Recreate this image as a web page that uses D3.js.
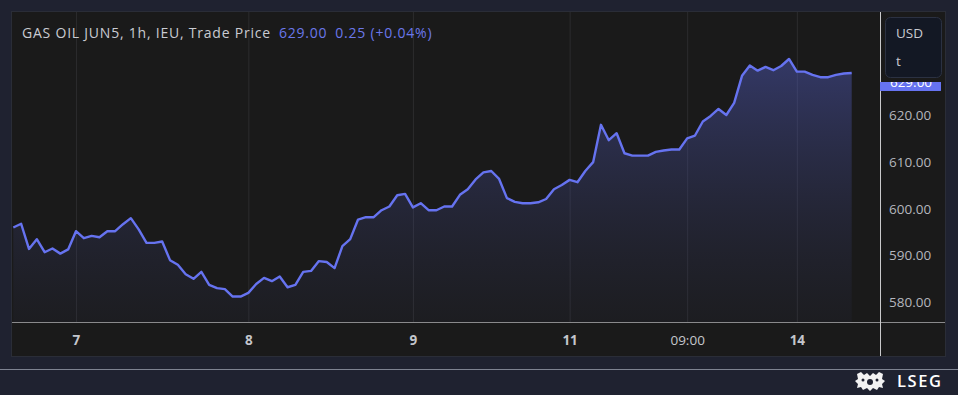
<!DOCTYPE html>
<html><head><meta charset="utf-8">
<script src="https://cdn.jsdelivr.net/npm/d3@7"></script>
<style>
html,body{margin:0;padding:0;background:#1f2230;overflow:hidden;}
svg{display:block;}
</style></head>
<body>
<svg id="chart" width="958" height="395"></svg>
<script>
const prices = [595.9,596.7,591.3,593.4,590.6,591.4,590.3,591.2,595.1,593.6,
594.1,593.8,595.1,595.1,596.6,597.9,595.5,592.6,592.6,592.9,
588.9,587.9,585.9,584.9,586.4,583.6,582.9,582.7,581.1,581.1,
581.9,583.8,585.1,584.4,585.4,583.1,583.6,586.4,586.6,588.7,
588.5,587.2,591.9,593.4,597.6,598.1,598.1,599.6,600.4,602.8,
603.1,600.2,601.1,599.6,599.6,600.4,600.4,602.9,604.1,606.2,
607.7,608.0,606.3,602.2,601.4,601.1,601.1,601.3,602.0,604.1,
605.0,606.1,605.6,608.0,609.9,617.9,614.6,616.1,611.8,611.3,
611.3,611.3,612.1,612.4,612.6,612.6,615.0,615.6,618.6,619.8,
621.3,620.0,622.6,628.4,630.6,629.5,630.3,629.6,630.5,632.0,
629.3,629.3,628.6,628.1,628.1,628.6,628.9,629.0];
const xTickIndex = [8,30,51,71,86,100];
const xTickLabels = ["7","8","9","11","09:00","14"];
const yTicks = [580,590,600,610,620,630,640];
const titleText = "GAS OIL JUN5, 1h, IEU, Trade Price";
const lastText = "629.00";
const changeText = "0.25 (+0.04%)";
const currency = "USD";
const unit = "t";

const svg = d3.select("#chart");
const W = 958, H = 395;
const panel = {x0:12, y0:12, x1:945, y1:356};
const plot = {x0:12, x1:880, y0:12, y1:322};
const lineColor = "#6673f0";
const FONT = "Open Sans, sans-serif";

const x = d3.scaleLinear().domain([0, prices.length-1]).range([13.3, 851.7]);
const y = d3.scaleLinear().domain([580, 620]).range([301.7, 115]);

// background
svg.append("rect").attr("width",W).attr("height",H).attr("fill","#1f2230");
svg.append("rect").attr("x",panel.x0-0.5).attr("y",panel.y0-0.5)
  .attr("width",panel.x1-panel.x0+1).attr("height",panel.y1-panel.y0+1)
  .attr("fill","#1a1a1a").attr("stroke","#2a2d37");

const defs = svg.append("defs");
defs.append("clipPath").attr("id","plotclip").append("rect")
  .attr("x",plot.x0).attr("y",plot.y0).attr("width",plot.x1-plot.x0).attr("height",plot.y1-plot.y0);
const grad = defs.append("linearGradient").attr("id","fillgrad")
  .attr("gradientUnits","userSpaceOnUse")
  .attr("x1",0).attr("x2",0).attr("y1", y(632)).attr("y2", plot.y1);
grad.append("stop").attr("offset","0%").attr("stop-color","#5a66d8").attr("stop-opacity",0.4);
grad.append("stop").attr("offset","100%").attr("stop-color","#3a3f70").attr("stop-opacity",0.08);

const g = svg.append("g").attr("clip-path","url(#plotclip)");

// grid
const yAxisGrid = d3.axisLeft(y).tickValues(yTicks).tickSize(-(plot.x1-plot.x0)).tickFormat("");
g.append("g").attr("transform",`translate(${plot.x1},0)`).call(yAxisGrid)
  .call(s=>s.select(".domain").remove())
  .call(s=>s.selectAll("line").attr("stroke","#2c2c2e"));
const xAxisGrid = d3.axisBottom(x).tickValues(xTickIndex).tickSize(-(plot.y1-plot.y0)).tickFormat("");
g.append("g").attr("transform",`translate(0,${plot.y1})`).call(xAxisGrid)
  .call(s=>s.select(".domain").remove())
  .call(s=>s.selectAll("line").attr("stroke","#2c2c2e"));

// area + line
const area = d3.area().x((d,i)=>x(i)).y0(plot.y1).y1(d=>y(d));
g.append("path").datum(prices).attr("d",area).attr("fill","url(#fillgrad)");
const line = d3.line().x((d,i)=>x(i)).y(d=>y(d));
g.append("path").datum(prices).attr("d",line).attr("fill","none")
  .attr("stroke",lineColor).attr("stroke-width",2.4).attr("stroke-linejoin","round");

// axis lines
svg.append("line").attr("x1",plot.x0).attr("x2",panel.x1).attr("y1",plot.y1+0.5).attr("y2",plot.y1+0.5)
  .attr("stroke","#8a8a8c").attr("stroke-width",1);
svg.append("line").attr("x1",plot.x1+0.5).attr("x2",plot.x1+0.5).attr("y1",panel.y0).attr("y2",panel.y1)
  .attr("stroke","#c9c9cb").attr("stroke-width",1);

// y axis labels
const yAxis = d3.axisRight(y).tickValues(yTicks.filter(v=>v<=620)).tickSize(0).tickPadding(0)
  .tickFormat(d3.format(".2f"));
svg.append("g").attr("transform",`translate(889,0)`).call(yAxis)
  .call(s=>s.select(".domain").remove())
  .call(s=>s.selectAll("text").attr("fill","#b4b6bd").attr("font-family",FONT)
        .attr("font-size",13.5).attr("dy","0.35em"));

// x axis labels
const xAxis = d3.axisBottom(x).tickValues(xTickIndex).tickSize(0).tickPadding(0)
  .tickFormat((d,i)=>xTickLabels[i]);
svg.append("g").attr("transform",`translate(0,340)`).call(xAxis)
  .call(s=>s.select(".domain").remove())
  .call(s=>s.selectAll("text").attr("fill","#c4c6cc").attr("font-family",FONT)
        .attr("font-size",13.5).attr("font-weight",(d,i)=>xTickLabels[i].includes(":")?400:700)
        .attr("dy","0.35em"));

// last price label (partially covered)
const lastY = y(prices[prices.length-1]);
defs.append("clipPath").attr("id","lblclip").append("rect")
  .attr("x",880).attr("y",82).attr("width",62).attr("height",9);
const lbl = svg.append("g").attr("clip-path","url(#lblclip)");
lbl.append("rect").attr("x",880).attr("y",lastY-1).attr("width",61).attr("height",20)
  .attr("fill","#6673f0").attr("rx",2);
lbl.append("text").attr("x",911).attr("y",lastY+9).attr("dy","0.35em").attr("text-anchor","middle")
  .attr("fill","#ffffff").attr("font-family",FONT).attr("font-size",13.5).text(lastText);

// currency box
svg.append("rect").attr("x",885.5).attr("y",17.5).attr("width",56).attr("height",60).attr("rx",5)
  .attr("fill","#131824").attr("stroke","#2b3142");
svg.append("text").attr("x",896).attr("y",33).attr("dy","0.35em").attr("fill","#c8cad1")
  .attr("font-family",FONT).attr("font-size",13.5).text(currency);
svg.append("text").attr("x",896).attr("y",61).attr("dy","0.35em").attr("fill","#c8cad1")
  .attr("font-family",FONT).attr("font-size",13.5).text(unit);

// title
const t = svg.append("text").attr("x",22).attr("y",33).attr("dy","0.35em")
  .attr("font-family",FONT).attr("font-size",14).attr("letter-spacing",0.78);
t.append("tspan").attr("fill","#c9cbd2").text(titleText);
t.append("tspan").attr("fill","#6b78ea").attr("dx",8).text(lastText);
t.append("tspan").attr("fill","#6b78ea").attr("dx",8).text(changeText);

// footer separator
svg.append("line").attr("x1",0).attr("x2",W).attr("y1",369.5).attr("y2",369.5)
  .attr("stroke","#7e8391").attr("stroke-width",1);

// LSEG logo (simplified crest) + text
const logo = svg.append("g").attr("transform","translate(855,372)").attr("fill","#f2f2f2");
logo.append("path").attr("d","M2,2 L6,0 L9,3 L12,1 L15,4 L18,1 L21,3 L24,0 L28,2 L27,7 L30,9 L27,12 L28,16 L24,15 L22,18 L18,16 L15,19 L12,16 L8,18 L6,15 L2,16 L3,12 L0,9 L3,7 Z");
logo.append("circle").attr("cx",15).attr("cy",10).attr("r",3).attr("fill","#1f2230");
logo.append("circle").attr("cx",8).attr("cy",8).attr("r",1.5).attr("fill","#1f2230");
logo.append("circle").attr("cx",22).attr("cy",8).attr("r",1.5).attr("fill","#1f2230");
svg.append("text").attr("x",897).attr("y",381).attr("dy","0.35em").attr("fill","#ffffff")
  .attr("font-family",FONT).attr("font-weight",600).attr("font-size",16.5)
  .attr("letter-spacing",1.6).text("LSEG");
</script>
</body></html>
